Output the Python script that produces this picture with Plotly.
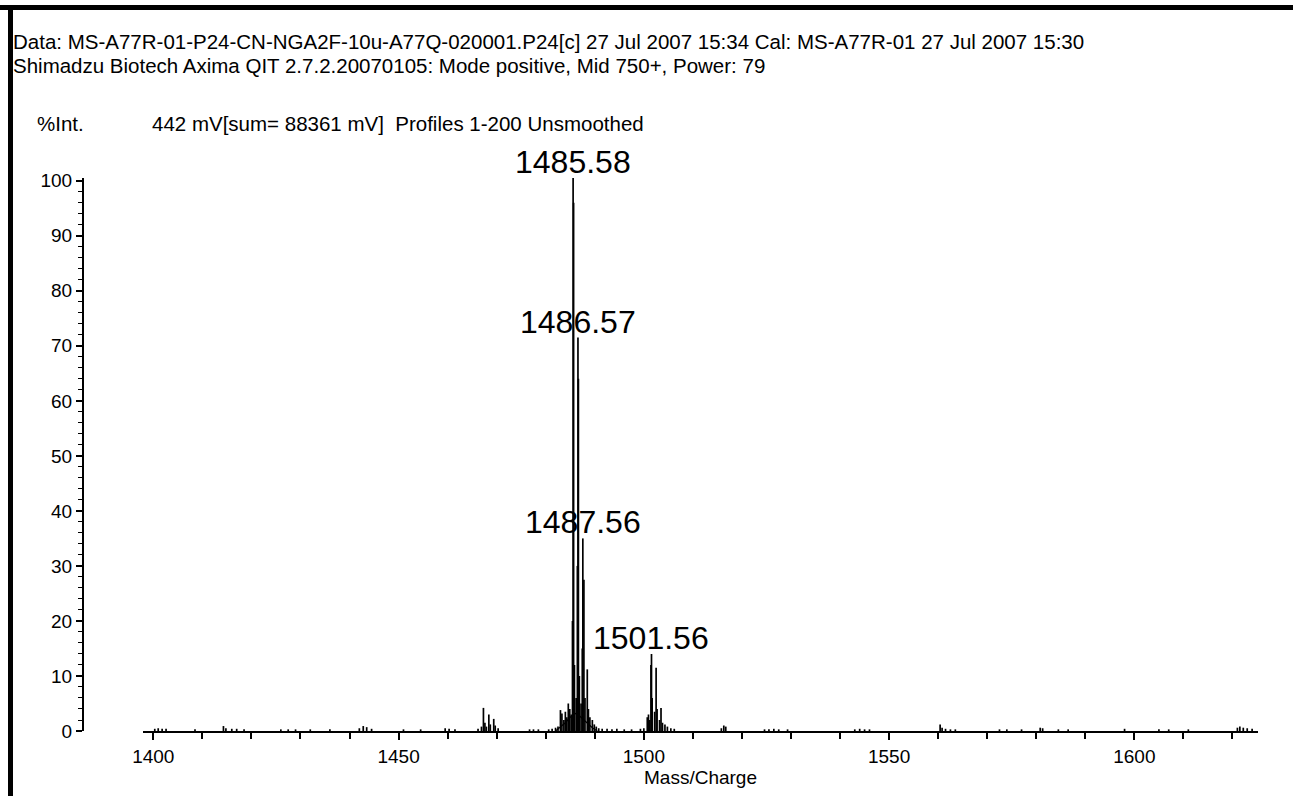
import plotly.graph_objects as go

# ---------------- data ----------------
header_line1 = "Data: MS-A77R-01-P24-CN-NGA2F-10u-A77Q-020001.P24[c] 27 Jul 2007 15:34 Cal: MS-A77R-01 27 Jul 2007 15:30"
header_line2 = "Shimadzu Biotech Axima QIT 2.7.2.20070105: Mode positive, Mid 750+, Power: 79"
yunit_label = "%Int."
info_label = "442 mV[sum= 88361 mV]  Profiles 1-200 Unsmoothed"
x_title = "Mass/Charge"

stick_mass = [
    1400.3, 1401.0, 1401.8, 1402.6, 1408.5, 1414.3, 1414.8, 1416.0, 1417.0, 1418.5,
    1426.0, 1427.5, 1429.0, 1432.0, 1436.0, 1442.0, 1442.8, 1443.5, 1444.5, 1451.0,
    1454.5, 1459.5, 1460.3, 1461.5, 1466.2,
    1466.9, 1467.3, 1467.6, 1467.9, 1468.4, 1468.7, 1469.4, 1469.7, 1470.3,
    1476.7, 1477.5, 1478.5, 1480.6, 1481.3, 1482.0, 1482.5,
    1483.0, 1483.3, 1483.7, 1484.0, 1484.3, 1484.6, 1484.9, 1485.2, 1485.45, 1485.58,
    1485.68, 1485.85, 1486.2, 1486.45, 1486.57, 1486.66, 1486.85, 1487.2, 1487.45, 1487.56,
    1487.78, 1488.0, 1488.47, 1488.7, 1489.0, 1489.5, 1489.9, 1490.3, 1490.8, 1491.5,
    1492.5, 1493.5, 1494.5, 1496.0, 1497.5, 1499.3, 1500.0,
    1500.7, 1500.95, 1501.2, 1501.45, 1501.56, 1501.7, 1502.2, 1502.5, 1502.7, 1503.2,
    1503.5, 1503.8, 1504.3, 1504.8, 1505.5, 1506.2,
    1515.8, 1516.3, 1516.7, 1524.6, 1525.5, 1526.5, 1527.5, 1529.3, 1543.0, 1544.0,
    1545.0, 1546.0, 1560.4, 1560.8, 1561.5, 1562.5, 1563.5, 1572.5, 1574.0, 1577.0,
    1580.8, 1581.3, 1584.5, 1586.5, 1598.0, 1605.0, 1607.0, 1611.0, 1621.0, 1621.5,
    1622.2, 1623.0, 1624.0,
]
stick_int = [
    0.4, 0.5, 0.4, 0.4, 0.3, 0.9, 0.5, 0.4, 0.4, 0.3,
    0.3, 0.3, 0.3, 0.3, 0.3, 0.5, 0.9, 0.7, 0.4, 0.3,
    0.3, 0.5, 0.4, 0.3, 0.4,
    0.8, 4.2, 1.5, 0.8, 3.0, 1.2, 2.2, 1.0, 0.5,
    0.3, 0.3, 0.3, 0.3, 0.4, 0.6, 0.8,
    3.8, 3.2, 2.0, 3.5, 2.5, 5.0, 4.0, 3.0, 20.0, 100.5,
    96.0, 12.0, 6.0, 30.0, 71.5, 64.0, 10.0, 5.0, 15.0, 35.0,
    27.5, 6.0, 11.2, 4.0, 2.5, 2.0, 1.2, 0.8, 0.5, 0.4,
    0.4, 0.3, 0.4, 0.3, 0.3, 0.4, 0.5,
    2.5, 3.0, 2.0, 12.0, 14.0, 6.0, 3.5, 11.5, 4.0, 2.0,
    4.2, 1.5, 1.2, 0.8, 0.5, 0.4,
    0.5, 1.0, 0.8, 0.3, 0.3, 0.4, 0.3, 0.3, 0.3, 0.4,
    0.3, 0.3, 1.2, 0.6, 0.4, 0.3, 0.3, 0.3, 0.3, 0.3,
    0.6, 0.5, 0.3, 0.3, 0.4, 0.3, 0.3, 0.3, 0.6, 0.8,
    0.6, 0.5, 0.4,
]

# broad profile envelope under the main isotope cluster
envelope_mass = [1482.0, 1484.0, 1485.3, 1486.0, 1486.8, 1488.0, 1489.5, 1490.5]
envelope_int = [0.0, 1.5, 2.8, 3.2, 2.8, 1.8, 0.6, 0.0]

label_mass = [1485.58, 1486.57, 1487.56, 1501.56]
label_int = [100.5, 71.5, 35.0, 14.0]
label_text = ["1485.58", "1486.57", "1487.56", "1501.56"]

x_range = [1397.9, 1625.2]
y_range = [0, 100.5]

# ---------------- figure ----------------
W, H = 1293, 796
FONT = "Liberation Sans, Arial, sans-serif"


def px(x):
    return x / W


def py(y):
    return 1 - y / H


xs, ys = [], []
for m, v in zip(stick_mass, stick_int):
    xs += [m, m, None]
    ys += [0, v, None]

fig = go.Figure()
fig.add_trace(go.Scatter(x=envelope_mass, y=envelope_int, mode="lines",
                         line=dict(color="black", width=1.2), hoverinfo="skip",
                         showlegend=False))
fig.add_trace(go.Scatter(x=xs, y=ys, mode="lines",
                         line=dict(color="black", width=1.7), hoverinfo="skip",
                         showlegend=False))

for m, v, t in zip(label_mass, label_int, label_text):
    fig.add_annotation(x=m, y=v, xref="x", yref="y", text=t, showarrow=False,
                       xanchor="center", yanchor="bottom", yshift=-4,
                       font=dict(family=FONT, size=32, color="black"))

tickfont = dict(family=FONT, size=19, color="black")
fig.update_layout(
    width=W, height=H,
    margin=dict(l=0, r=0, t=0, b=0),
    paper_bgcolor="white", plot_bgcolor="white",
    showlegend=False,
    xaxis=dict(domain=[px(143), px(1258)], range=x_range, anchor="y",
               showline=True, linecolor="black", linewidth=2,
               ticks="outside", tick0=1400, dtick=50, ticklen=7, tickwidth=1.5,
               tickcolor="black", tickfont=tickfont,
               minor=dict(dtick=10, tick0=1400, ticks="outside", ticklen=6,
                          tickwidth=1.5, tickcolor="black"),
               showgrid=False, zeroline=False, automargin=False),
    yaxis=dict(domain=[py(731), py(178)], range=y_range, anchor="free",
               position=px(83),
               showline=True, linecolor="black", linewidth=2,
               ticks="outside", tick0=0, dtick=10, ticklen=6, tickwidth=1.5,
               tickcolor="black", tickfont=tickfont,
               minor=dict(dtick=2, tick0=0, ticks="outside", ticklen=4,
                          tickwidth=1.2, tickcolor="black"),
               showgrid=False, zeroline=False, automargin=False),
)

hdr_font = dict(family=FONT, size=20.5, color="black")
fig.add_annotation(x=px(12), y=py(42), xref="paper", yref="paper", text=header_line1,
                   showarrow=False, xanchor="left", yanchor="middle", font=hdr_font,
                   borderpad=0)
fig.add_annotation(x=px(12), y=py(66), xref="paper", yref="paper", text=header_line2,
                   showarrow=False, xanchor="left", yanchor="middle", font=hdr_font,
                   borderpad=0)
fig.add_annotation(x=px(35), y=py(123), xref="paper", yref="paper", text=yunit_label,
                   showarrow=False, xanchor="left", yanchor="middle", font=hdr_font)
fig.add_annotation(x=px(150), y=py(123), xref="paper", yref="paper", text=info_label,
                   showarrow=False, xanchor="left", yanchor="middle", font=hdr_font)
fig.add_annotation(x=px(700), y=py(777), xref="paper", yref="paper", text=x_title,
                   showarrow=False, xanchor="center", yanchor="middle",
                   font=dict(family=FONT, size=19, color="black"))

# page frame (thick top and left borders)
fig.add_shape(type="rect", xref="paper", yref="paper", x0=0, x1=1, y0=py(10), y1=py(5),
              fillcolor="black", line=dict(width=0), layer="above")
fig.add_shape(type="rect", xref="paper", yref="paper", x0=px(8), x1=px(13), y0=0, y1=py(5),
              fillcolor="black", line=dict(width=0), layer="above")

fig.write_html("out.html", config={"displayModeBar": False},
               post_script="document.body.style.margin='0';document.body.style.overflow='hidden';")
